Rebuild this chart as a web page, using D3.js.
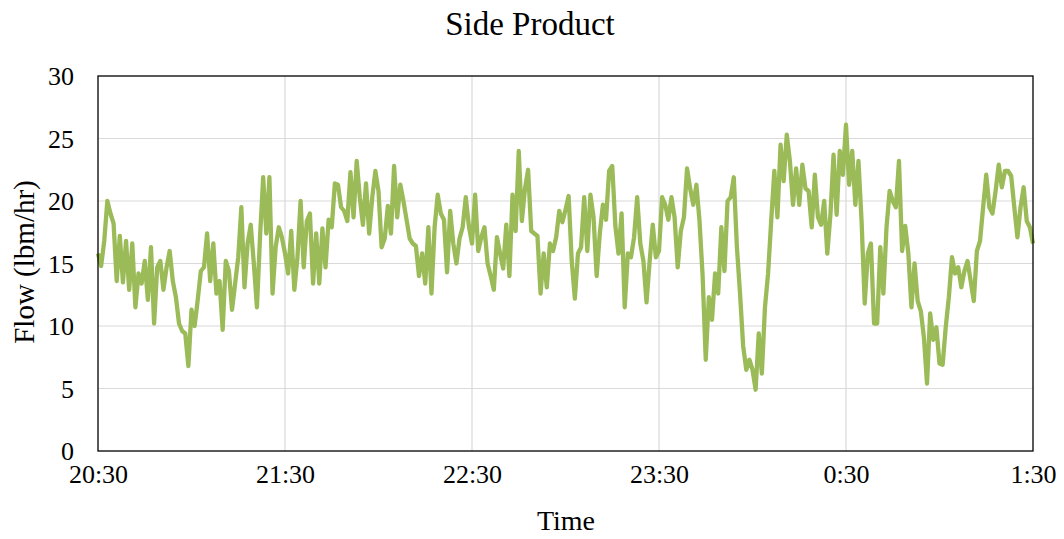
<!DOCTYPE html>
<html>
<head>
<meta charset="utf-8">
<script src="https://cdn.jsdelivr.net/npm/d3@7/dist/d3.min.js"></script>
<style>
  html, body { margin: 0; padding: 0; background: #fff; }
  svg text { font-family: "Liberation Serif", "Times New Roman", serif; fill: #000; }
</style>
</head>
<body>
<svg id="chart" width="1064" height="539"></svg>
<script>
// Side product flow, one sample per minute starting 20:30
const startTime = new Date(2000, 0, 1, 20, 30);
const endTime = new Date(2000, 0, 2, 1, 30);
const sampleMinutes = 1;

const flow = [
  15.8, 14.8, 16.8, 20.0, 19.0, 18.2, 13.6, 17.2, 13.5, 16.8,
  12.9, 16.6, 11.5, 14.2, 13.4, 15.2, 12.1, 16.3, 10.2, 14.7,
  15.2, 12.9, 14.7, 16.0, 13.6, 12.3, 10.2, 9.6, 9.4, 6.8,
  11.3, 10.0, 12.1, 14.4, 14.7, 17.4, 13.6, 16.6, 12.6, 13.6,
  9.7, 15.2, 14.4, 11.3, 13.4, 15.5, 19.5, 13.1, 16.6, 18.1,
  15.0, 11.5, 17.2, 21.9, 17.4, 21.9, 12.6, 16.3, 17.9, 17.1,
  15.8, 14.2, 17.6, 12.9, 15.5, 20.0, 14.7, 18.4, 19.0, 13.4,
  17.4, 13.4, 17.8, 14.7, 18.5, 17.9, 21.4, 21.3, 19.5, 19.2,
  18.4, 22.3, 18.7, 23.2, 20.3, 18.1, 21.4, 17.4, 20.3, 22.4,
  20.8, 16.3, 17.0, 19.6, 17.4, 22.8, 18.7, 21.3, 20.0, 18.5,
  17.0, 16.6, 16.4, 14.0, 15.8, 13.4, 17.9, 12.6, 17.9, 20.5,
  19.0, 18.5, 14.3, 19.2, 16.6, 15.0, 17.0, 17.9, 20.3, 18.0,
  16.6, 20.5, 16.0, 17.1, 17.9, 15.0, 14.0, 12.9, 17.1, 15.8,
  14.6, 18.1, 14.0, 20.5, 17.6, 24.0, 18.4, 21.0, 22.5, 17.6,
  17.4, 17.2, 12.6, 15.8, 13.1, 16.6, 16.0, 17.1, 19.2, 18.3,
  19.3, 20.4, 15.2, 12.2, 15.8, 16.3, 20.3, 16.0, 20.5, 18.7,
  14.0, 17.4, 19.7, 18.5, 22.4, 22.8, 18.0, 15.8, 19.0, 11.5,
  15.8, 15.5, 17.1, 20.3, 16.6, 15.2, 11.9, 15.2, 18.1, 15.5,
  16.0, 20.3, 19.7, 18.5, 20.3, 18.7, 14.7, 17.6, 18.7, 22.6,
  21.0, 19.7, 21.3, 18.4, 14.0, 7.3, 12.3, 10.5, 14.2, 12.6,
  17.9, 14.4, 20.0, 20.3, 21.9, 16.3, 12.6, 8.4, 6.5, 7.3,
  6.5, 4.9, 9.4, 6.2, 11.5, 14.2, 18.4, 22.4, 18.7, 24.5,
  21.6, 25.3, 23.2, 19.7, 22.6, 19.7, 22.9, 21.0, 20.8, 17.9,
  22.1, 18.7, 18.1, 20.0, 15.8, 18.9, 23.7, 18.9, 24.0, 22.1,
  26.1, 21.3, 24.0, 19.7, 23.2, 18.4, 11.8, 15.8, 16.6, 10.2,
  10.2, 16.3, 12.6, 17.9, 20.8, 20.0, 19.5, 23.2, 16.0, 18.0,
  15.8, 11.5, 15.0, 12.0, 11.2, 9.1, 5.4, 11.0, 8.9, 9.9,
  7.0, 6.9, 9.9, 12.3, 15.5, 14.2, 14.7, 13.1, 14.4, 15.2,
  13.6, 12.0, 16.0, 16.8, 19.5, 22.1, 19.5, 19.0, 20.8, 22.9,
  21.1, 22.4, 22.4, 22.0, 19.5, 17.1, 19.5, 21.1, 18.4, 17.9, 16.6
];

const yTicks = [0, 5, 10, 15, 20, 25, 30];
const xTickLabels = ["20:30", "21:30", "22:30", "23:30", "0:30", "1:30"];

const titleText = "Side Product";
const xTitle = "Time";
const yTitle = "Flow (lbm/hr)";

const svg = d3.select("#chart");
const margin = { left: 98, right: 31, top: 76, bottom: 88 };
const W = 1064, H = 539;
const plotW = W - margin.left - margin.right;
const plotH = H - margin.top - margin.bottom;

const x = d3.scaleTime().domain([startTime, endTime]).range([0, plotW]);
const y = d3.scaleLinear().domain([0, 30]).range([plotH, 0]);

const xTicks = xTickLabels.map((_, i) => d3.timeHour.offset(startTime, i));

const g = svg.append("g").attr("transform", `translate(${margin.left},${margin.top})`);

// gridlines
g.append("g").selectAll("line.h").data(yTicks.slice(1, -1)).join("line")
  .attr("x1", 0).attr("x2", plotW)
  .attr("y1", d => y(d)).attr("y2", d => y(d))
  .attr("stroke", "#d9d9d9").attr("stroke-width", 1.2);
g.append("g").selectAll("line.v").data(xTicks.slice(1, -1)).join("line")
  .attr("y1", 0).attr("y2", plotH)
  .attr("x1", d => x(d)).attr("x2", d => x(d))
  .attr("stroke", "#d9d9d9").attr("stroke-width", 1.2);

// series
const pts = flow.map((v, i) => ({ t: d3.timeMinute.offset(startTime, i * sampleMinutes), v }));
g.append("path")
  .datum(pts)
  .attr("fill", "none")
  .attr("stroke", "#9bbb59")
  .attr("stroke-width", 4.3)
  .attr("stroke-linejoin", "round")
  .attr("d", d3.line().x(d => x(d.t)).y(d => y(d.v)));

// frame
g.append("rect")
  .attr("x", 0).attr("y", 0).attr("width", plotW).attr("height", plotH)
  .attr("fill", "none").attr("stroke", "#000").attr("stroke-width", 1.3);

// axes
const yAxis = d3.axisLeft(y).tickValues(yTicks).tickSize(0).tickPadding(24);
const yg = g.append("g").call(yAxis);
yg.select(".domain").remove();
yg.selectAll("text").style("font-size", "26px").attr("dy", "0.34em")
  .style("font-family", "'Liberation Serif', serif");

const xAxis = d3.axisBottom(x).tickValues(xTicks).tickSize(0).tickPadding(14)
  .tickFormat((d, i) => xTickLabels[i]);
const xg = g.append("g").attr("transform", `translate(0,${plotH})`).call(xAxis);
xg.select(".domain").remove();
xg.selectAll("text").style("font-size", "26px")
  .style("font-family", "'Liberation Serif', serif");

// titles
svg.append("text").attr("x", 530).attr("y", 35).attr("text-anchor", "middle")
  .style("font-size", "33px").text(titleText);
svg.append("text").attr("x", 566).attr("y", 530).attr("text-anchor", "middle")
  .style("font-size", "28px").text(xTitle);
svg.append("text").attr("transform", "translate(34,262) rotate(-90)")
  .attr("text-anchor", "middle").style("font-size", "29px").text(yTitle);
</script>
</body>
</html>
